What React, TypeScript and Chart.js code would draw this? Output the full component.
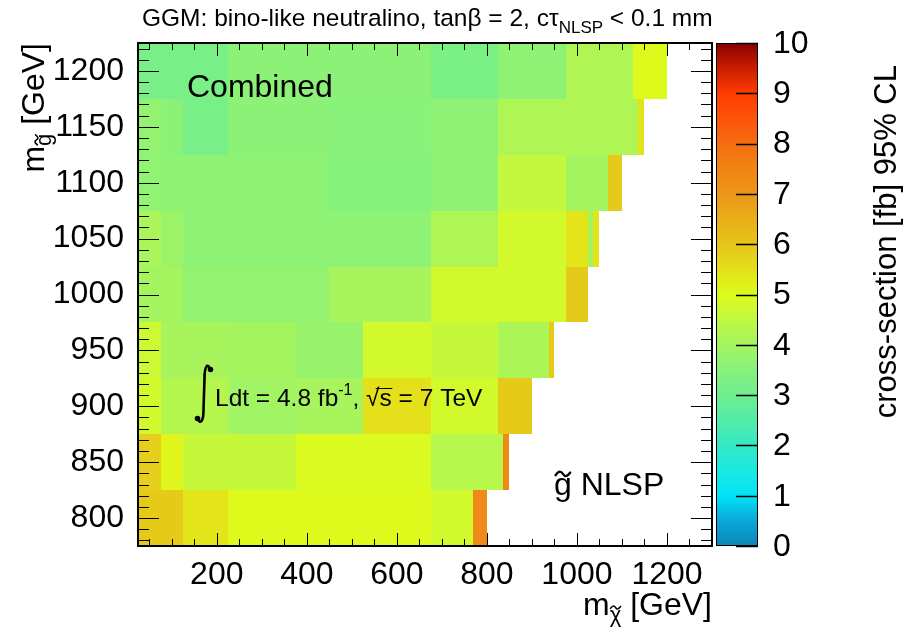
import React, { useEffect, useRef } from 'react';
import { Chart, registerables } from 'chart.js';

Chart.register(...registerables);

const FONT = '"Liberation Sans", Arial, Helvetica, sans-serif';

// ---- axis ranges and ticks ----
const neutralinoMin = 25;
const neutralinoMax = 1300;
const gluinoMin = 775;
const gluinoMax = 1225;
const xTickValues = [200, 400, 600, 800, 1000, 1200];
const yTickValues = [800, 850, 900, 950, 1000, 1050, 1100, 1150, 1200];
const zTickValues = [0, 1, 2, 3, 4, 5, 6, 7, 8, 9, 10];
const zMin = 0;
const zMax = 10;

// ---- gluino-mass rows (bin edges) ----
const gluinoEdges = [775, 825, 875, 925, 975, 1025, 1075, 1125, 1175, 1225];

// ---- per-row neutralino bin edges and cross-section limits [fb] ----
const row800Edges = [25, 125, 225, 675, 770, 800];
const row800Values = [5.9, 5.4, 5.0, 4.8, 7.3];

const row850Edges = [25, 75, 125, 375, 675, 835, 850];
const row850Values = [5.8, 5.1, 4.6, 4.95, 4.35, 7.3];

const row900Edges = [25, 75, 225, 375, 525, 675, 825, 900];
const row900Values = [4.8, 4.3, 3.95, 4.05, 5.5, 4.8, 5.9];

const row950Edges = [25, 75, 225, 375, 525, 675, 825, 937.5, 950];
const row950Values = [4.7, 4.05, 4.0, 3.8, 4.8, 4.6, 4.15, 5.9];

const row1000Edges = [25, 125, 450, 675, 975, 1025];
const row1000Values = [4.0, 3.7, 4.05, 4.8, 5.9];

const row1050Edges = [25, 75, 125, 675, 825, 975, 1025, 1035, 1050];
const row1050Values = [4.1, 3.85, 3.6, 4.2, 4.8, 5.4, 4.0, 5.4];

const row1100Edges = [25, 75, 450, 675, 825, 975, 1070, 1100];
const row1100Values = [3.65, 3.6, 3.45, 3.6, 4.55, 4.0, 5.9];

const row1150Edges = [25, 75, 125, 225, 450, 675, 825, 1135, 1150];
const row1150Values = [3.7, 3.55, 3.2, 3.55, 3.5, 3.6, 4.2, 5.4];

const row1200Edges = [25, 225, 450, 675, 825, 975, 1125, 1200];
const row1200Values = [3.2, 3.55, 3.55, 3.25, 3.6, 4.2, 5.0];

const rowEdges = [row800Edges, row850Edges, row900Edges, row950Edges, row1000Edges, row1050Edges, row1100Edges, row1150Edges, row1200Edges];
const rowValues = [row800Values, row850Values, row900Values, row950Values, row1000Values, row1050Values, row1100Values, row1150Values, row1200Values];

// ---- colour palette (style) ----
const paletteValues = [0, 0.5, 1, 1.5, 2, 2.5, 3, 3.5, 4, 4.5, 5, 5.5, 6, 6.5, 7, 7.5, 8, 8.5, 9, 9.5, 10];
const paletteColors = [
  '#0a86b6', '#0aa8d8', '#00e4f8', '#1ce8e0', '#34e8c4', '#52eca8', '#6eee90', '#88f27a', '#a4f460',
  '#c0f842', '#defa1c', '#e4e01a', '#e6c41a', '#eaae18', '#ec9618', '#f08414', '#f66c10', '#fc5408',
  '#ff3c00', '#c81e00', '#880000',
];

function hexToRgb(h: string) {
  return [parseInt(h.slice(1, 3), 16), parseInt(h.slice(3, 5), 16), parseInt(h.slice(5, 7), 16)];
}
function colorFor(v: number) {
  const t = Math.max(zMin, Math.min(zMax, v));
  let i = 0;
  while (i < paletteValues.length - 2 && t > paletteValues[i + 1]) i++;
  const f = (t - paletteValues[i]) / (paletteValues[i + 1] - paletteValues[i]);
  const a = hexToRgb(paletteColors[i]);
  const b = hexToRgb(paletteColors[i + 1]);
  const c = a.map((x, k) => Math.round(x + (b[k] - x) * f));
  return `rgb(${c[0]},${c[1]},${c[2]})`;
}

type Cell = { x: number; y: number; x0: number; x1: number; y0: number; y1: number; v: number };
function buildCells(): Cell[] {
  const cells: Cell[] = [];
  rowEdges.forEach((edges, r) => {
    const y0 = gluinoEdges[r];
    const y1 = gluinoEdges[r + 1];
    rowValues[r].forEach((v, i) => {
      cells.push({ x: (edges[i] + edges[i + 1]) / 2, y: (y0 + y1) / 2, x0: edges[i], x1: edges[i + 1], y0, y1, v });
    });
  });
  return cells;
}

type Part = { t: string; size: number; dy?: number; tilde?: boolean };
function richWidth(ctx: CanvasRenderingContext2D, parts: Part[]) {
  let w = 0;
  for (const p of parts) {
    ctx.font = `${p.size}px ${FONT}`;
    w += ctx.measureText(p.t).width;
  }
  return w;
}
function drawTilde(ctx: CanvasRenderingContext2D, cx: number, cy: number, size: number) {
  const w = 0.46 * size;
  const a = 0.07 * size;
  ctx.save();
  ctx.lineWidth = Math.max(1, 0.07 * size);
  ctx.lineCap = 'round';
  ctx.beginPath();
  ctx.moveTo(cx - w / 2, cy + a * 0.6);
  ctx.bezierCurveTo(cx - w / 4, cy - a * 1.6, cx - w / 8, cy - a * 1.2, cx, cy);
  ctx.bezierCurveTo(cx + w / 8, cy + a * 1.2, cx + w / 4, cy + a * 1.6, cx + w / 2, cy - a * 0.6);
  ctx.stroke();
  ctx.restore();
}
function drawRich(ctx: CanvasRenderingContext2D, parts: Part[], x: number, y: number, align: 'left' | 'right' | 'center') {
  const w = richWidth(ctx, parts);
  let cx = align === 'right' ? x - w : align === 'center' ? x - w / 2 : x;
  ctx.textAlign = 'left';
  ctx.textBaseline = 'alphabetic';
  const pos: number[] = [];
  for (const p of parts) {
    ctx.font = `${p.size}px ${FONT}`;
    pos.push(cx);
    const by = y + (p.dy || 0);
    ctx.fillText(p.t, cx, by);
    const tw = ctx.measureText(p.t).width;
    if (p.tilde) drawTilde(ctx, cx + tw / 2, by - 0.66 * p.size, p.size);
    cx += tw;
  }
  pos.push(cx);
  return pos;
}

const heatmapPlugin = {
  id: 'heatmap',
  beforeDatasetsDraw(chart: any) {
    const { ctx, chartArea } = chart;
    const xs = chart.scales.x;
    const ys = chart.scales.y;
    ctx.save();
    ctx.beginPath();
    ctx.rect(chartArea.left, chartArea.top, chartArea.right - chartArea.left, chartArea.bottom - chartArea.top);
    ctx.clip();
    for (const c of chart.data.datasets[0].data as Cell[]) {
      const px0 = Math.round(xs.getPixelForValue(c.x0));
      const px1 = Math.round(xs.getPixelForValue(c.x1));
      const py0 = Math.round(ys.getPixelForValue(c.y1));
      const py1 = Math.round(ys.getPixelForValue(c.y0));
      ctx.fillStyle = colorFor(c.v);
      ctx.fillRect(px0, py0, px1 - px0, py1 - py0);
    }
    ctx.restore();
  },
};

const decorPlugin = {
  id: 'decor',
  afterDraw(chart: any) {
    const { ctx, chartArea } = chart;
    const xs = chart.scales.x;
    const ys = chart.scales.y;
    const L = chartArea.left, R = chartArea.right, T = chartArea.top, B = chartArea.bottom;
    ctx.save();
    ctx.fillStyle = '#000';
    ctx.strokeStyle = '#000';

    // ticks (inside, all four sides)
    ctx.lineWidth = 1;
    ctx.beginPath();
    for (let v = 50; v < neutralinoMax; v += 50) {
      const px = Math.round(xs.getPixelForValue(v)) + 0.5;
      const len = v % 200 === 0 ? 13 : 7;
      ctx.moveTo(px, B); ctx.lineTo(px, B - len);
      ctx.moveTo(px, T); ctx.lineTo(px, T + len);
    }
    for (let v = 780; v < gluinoMax; v += 10) {
      const py = Math.round(ys.getPixelForValue(v)) + 0.5;
      const len = v % 50 === 0 ? 21 : 11;
      ctx.moveTo(L, py); ctx.lineTo(L + len, py);
      ctx.moveTo(R, py); ctx.lineTo(R - len, py);
    }
    ctx.stroke();

    // frame
    ctx.lineWidth = 2;
    ctx.strokeRect(L, T, R - L, B - T);

    // colour bar
    const cbL = 716, cbR = 758;
    const zPix = (v: number) => B - ((v - zMin) / (zMax - zMin)) * (B - T);
    for (let py = Math.floor(T); py < B; py++) {
      const v = zMin + ((B - (py + 0.5)) / (B - T)) * (zMax - zMin);
      ctx.fillStyle = colorFor(v);
      ctx.fillRect(cbL, py, cbR - cbL, 1);
    }
    ctx.lineWidth = 1;
    ctx.strokeStyle = '#000';
    ctx.strokeRect(cbL + 0.5, T + 0.5, cbR - cbL - 1, B - T - 1);
    ctx.beginPath();
    ctx.lineWidth = 1.5;
    zTickValues.forEach((v) => {
      const py = Math.round(zPix(v)) + 0.5;
      ctx.moveTo(cbR, py); ctx.lineTo(cbR - 22, py);
    });
    ctx.stroke();
    ctx.fillStyle = '#000';
    ctx.font = `32px ${FONT}`;
    ctx.textAlign = 'left';
    ctx.textBaseline = 'middle';
    zTickValues.forEach((v) => {
      ctx.fillText(String(v), 773, zPix(v) + 1);
    });

    // colour bar title
    ctx.save();
    ctx.translate(896, 65);
    ctx.rotate(-Math.PI / 2);
    drawRich(ctx, [{ t: 'cross-section [fb] 95% CL', size: 31 }], 0, 0, 'right');
    ctx.restore();

    // y title
    ctx.save();
    ctx.translate(44, T);
    ctx.rotate(-Math.PI / 2);
    drawRich(ctx, [{ t: 'm', size: 32 }, { t: 'g', size: 22, dy: 7, tilde: true }, { t: ' [GeV]', size: 32 }], 0, 0, 'right');
    ctx.restore();

    // x title
    drawRich(ctx, [{ t: 'm', size: 32 }, { t: '\u03c7', size: 22, dy: 7, tilde: true }, { t: ' [GeV]', size: 32 }], R, 615, 'right');

    // top title
    drawRich(ctx, [
      { t: 'GGM: bino-like neutralino, tan\u03b2 = 2, c\u03c4', size: 24.5 },
      { t: 'NLSP', size: 17, dy: 7 },
      { t: ' < 0.1 mm', size: 24.5 },
    ], 142, 26, 'left');

    // labels in the plot
    drawRich(ctx, [{ t: 'Combined', size: 32 }], 187, 97, 'left');
    drawRich(ctx, [{ t: 'g', size: 32, tilde: true }, { t: ' NLSP', size: 32 }], 554, 495, 'left');

    // luminosity label: integral sign drawn as a path
    ctx.lineWidth = 2.6;
    ctx.lineCap = 'round';
    ctx.beginPath();
    ctx.moveTo(210.5, 370);
    ctx.bezierCurveTo(208, 362, 204.5, 366, 204.5, 378);
    ctx.lineTo(203.5, 410);
    ctx.bezierCurveTo(203.5, 422, 200, 425, 197.5, 418);
    ctx.stroke();
    ctx.beginPath();
    ctx.arc(210.5, 369.5, 2.8, 0, Math.PI * 2);
    ctx.arc(197.5, 418.5, 2.8, 0, Math.PI * 2);
    ctx.fill();

    const pos = drawRich(ctx, [
      { t: 'Ldt = 4.8 fb', size: 24.5 },
      { t: '-1', size: 16, dy: -11 },
      { t: ', ', size: 24.5 },
      { t: '\u221a', size: 24.5 },
      { t: 's', size: 24.5 },
      { t: ' = 7 TeV', size: 24.5 },
    ], 215, 406, 'left');
    ctx.lineWidth = 1.2;
    ctx.beginPath();
    ctx.moveTo(pos[3] + 10, 388.5);
    ctx.lineTo(pos[5], 388.5);
    ctx.stroke();

    ctx.restore();
  },
};

export default function App() {
  const ref = useRef<HTMLCanvasElement>(null);
  useEffect(() => {
    if (!ref.current) return;
    const chart = new Chart(ref.current, {
      type: 'scatter',
      data: {
        datasets: [
          {
            data: buildCells() as any,
            pointRadius: 0,
            pointHoverRadius: 0,
          },
        ],
      },
      options: {
        responsive: false,
        animation: false,
        events: [],
        layout: { padding: { top: 43, right: 192, left: 0, bottom: 0 } },
        plugins: { legend: { display: false }, tooltip: { enabled: false }, title: { display: false } },
        scales: {
          x: {
            type: 'linear',
            min: neutralinoMin,
            max: neutralinoMax,
            grid: { display: false, drawTicks: false },
            border: { display: false },
            afterBuildTicks: (s: any) => {
              s.ticks = xTickValues.map((v) => ({ value: v }));
            },
            afterFit: (s: any) => {
              s.height = 93;
            },
            ticks: {
              font: { family: FONT, size: 32 },
              color: '#000',
              padding: 10,
              maxRotation: 0,
              autoSkip: false,
              callback: (v: any) => String(v),
            },
          },
          y: {
            type: 'linear',
            min: gluinoMin,
            max: gluinoMax,
            grid: { display: false, drawTicks: false },
            border: { display: false },
            afterBuildTicks: (s: any) => {
              s.ticks = yTickValues.map((v) => ({ value: v }));
            },
            afterFit: (s: any) => {
              s.width = 138;
            },
            ticks: {
              font: { family: FONT, size: 32 },
              color: '#000',
              padding: 14,
              autoSkip: false,
              callback: (v: any) => String(v),
            },
          },
        },
      },
      plugins: [heatmapPlugin, decorPlugin],
    });
    return () => chart.destroy();
  }, []);
  return (
    <div style={{ position: 'fixed', left: 0, top: 0, width: 904, height: 639, background: '#fff' }}>
      <canvas ref={ref} width={904} height={639} style={{ display: 'block' }} />
    </div>
  );
}
